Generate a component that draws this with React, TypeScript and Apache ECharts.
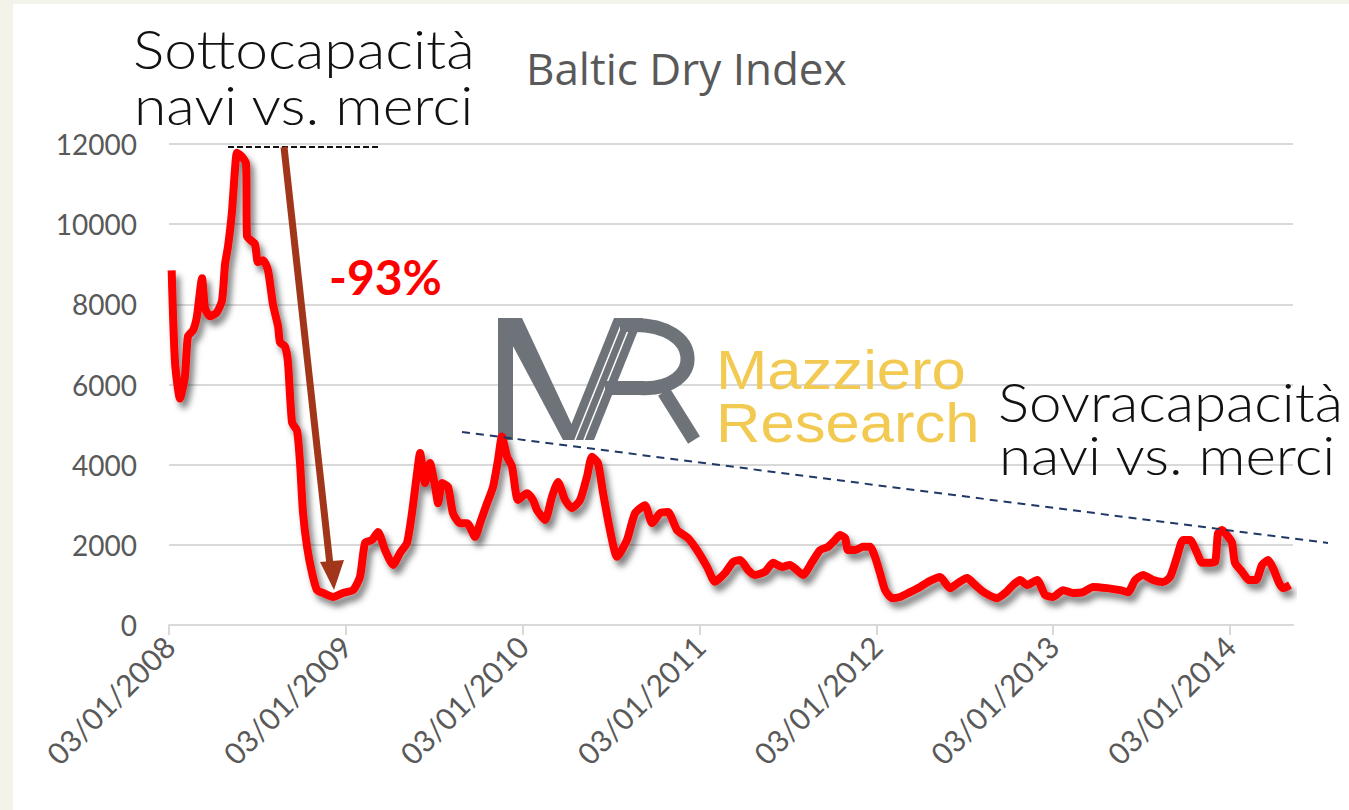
import React, { useEffect, useRef } from "react";
import * as echarts from "echarts";

// Decimal years (x) and Baltic Dry Index values (y)
const years: number[] = [
  2008.015, 2008.034, 2008.062, 2008.09, 2008.107, 2008.136, 2008.158, 2008.187, 2008.204, 2008.232,
  2008.271, 2008.3, 2008.317, 2008.334, 2008.356, 2008.373, 2008.385, 2008.413, 2008.436, 2008.441,
  2008.486, 2008.503, 2008.532, 2008.56, 2008.588, 2008.617, 2008.628, 2008.656, 2008.673, 2008.696,
  2008.724, 2008.741, 2008.758, 2008.781, 2008.809, 2008.837, 2008.871, 2008.928, 2008.984,
  2009.041, 2009.08, 2009.109, 2009.148, 2009.182, 2009.222, 2009.267, 2009.307, 2009.346, 2009.374,
  2009.403, 2009.42, 2009.448, 2009.476, 2009.505, 2009.522, 2009.544, 2009.578, 2009.606, 2009.646,
  2009.686, 2009.731, 2009.759, 2009.799, 2009.833, 2009.861, 2009.883, 2009.912, 2009.94, 2009.974,
  2010.025, 2010.059, 2010.081, 2010.127, 2010.166, 2010.2, 2010.24, 2010.279, 2010.325, 2010.364,
  2010.392, 2010.426, 2010.455, 2010.494, 2010.534, 2010.59, 2010.636, 2010.692, 2010.732, 2010.777,
  2010.822, 2010.873, 2010.935, 2010.986,
  2011.043, 2011.088, 2011.145, 2011.19, 2011.23, 2011.275, 2011.314, 2011.371, 2011.416, 2011.467,
  2011.512, 2011.552, 2011.586, 2011.637, 2011.682, 2011.727, 2011.767, 2011.795, 2011.824, 2011.84,
  2011.88, 2011.925, 2011.965, 2011.993,
  2012.021, 2012.05, 2012.089, 2012.135, 2012.191, 2012.248, 2012.304, 2012.361, 2012.417, 2012.463,
  2012.514, 2012.559, 2012.615, 2012.683, 2012.729, 2012.774, 2012.813, 2012.853, 2012.91, 2012.955,
  2013.0, 2013.057, 2013.113, 2013.17, 2013.226, 2013.305, 2013.379, 2013.424, 2013.464, 2013.509,
  2013.566, 2013.622, 2013.662, 2013.701, 2013.735, 2013.775, 2013.814, 2013.843, 2013.877, 2013.916,
  2013.933, 2013.956, 2013.99,
  2014.012, 2014.029, 2014.069, 2014.108, 2014.148, 2014.182, 2014.216, 2014.244, 2014.278, 2014.301,
  2014.34,
];

const bdi: number[] = [
  8850, 6550, 5650, 6200, 7200, 7350, 7700, 8650, 7900, 7700,
  7800, 8100, 9000, 9450, 10300, 11350, 11780, 11680, 11500, 9700,
  9500, 9050, 9100, 8850, 8000, 7450, 7050, 6950, 6550, 5050,
  4850, 4050, 2800, 1950, 1300, 870, 800, 700, 800,
  870, 1200, 2050, 2120, 2320, 1870, 1500, 1800, 2050, 2790,
  3790, 4290, 3540, 4040, 3450, 3040, 3540, 3450, 2790, 2540,
  2540, 2200, 2540, 3040, 3450, 4120, 4700, 4200, 3950, 3120,
  3290, 3120, 2870, 2620, 3200, 3570, 3120, 2920, 3120, 3700,
  4200, 4040, 3290, 2370, 1700, 2120, 2790, 2990, 2540, 2790,
  2820, 2370, 2170, 1870,
  1450, 1080, 1300, 1570, 1620, 1370, 1250, 1330, 1550, 1450,
  1500, 1370, 1250, 1570, 1870, 1950, 2120, 2245, 2170, 1870,
  1870, 1950, 1950, 1700,
  1300, 870, 670, 700, 820, 950, 1100, 1200, 920, 1050,
  1170, 1000, 800, 670, 800, 1000, 1120, 1000, 1120, 750,
  700, 870, 800, 820, 950, 920, 870, 820, 1120, 1250,
  1120, 1070, 1200, 1700, 2120, 2120, 1800, 1550, 1550, 1570,
  2290, 2370, 2200,
  2050, 1550, 1330, 1120, 1120, 1500, 1620, 1420, 1050, 920,
  1000,
];

const tickDay = "03/01/";
const yTicks = { min: 0, max: 12000, step: 2000 };
const xRange = { min: 2008, max: 2014.357 };
const chartTitle = "Baltic Dry Index";
const leftNote = ["Sottocapacità", "navi vs. merci"];
const rightNote = ["Sovracapacità", "navi vs. merci"];
const dropLabel = "-93%";
const logoWords = ["Mazziero", "Research"];

export default function App() {
  const ref = useRef<HTMLDivElement>(null);
  useEffect(() => {
    if (!ref.current) return;
    const chart = echarts.init(ref.current, null, { renderer: "svg" });
    const grey = "#6d7379";
    const noteFont = "300 54px Lato";
    const logoFont = "normal 56px 'Liberation Sans'";
    chart.setOption({
      animation: false,
      backgroundColor: "#ffffff",
      title: {
        text: chartTitle,
        left: 521,
        top: 41,
        textStyle: { fontFamily: "Open Sans", fontSize: 44, fontWeight: "normal", color: "#595959" },
      },
      grid: { left: 169, right: 56, top: 144, bottom: 185 },
      xAxis: {
        type: "value",
        min: xRange.min,
        max: xRange.max,
        interval: 1,
        splitLine: { show: false },
        axisLine: { show: true, lineStyle: { color: "#d9d9d9", width: 2 } },
        axisTick: { show: true, length: 10, lineStyle: { color: "#d9d9d9", width: 2 } },
        axisLabel: {
          rotate: 45,
          margin: 16,
          color: "#595959",
          fontFamily: "Lato",
          fontSize: 30,
          showMaxLabel: false,
          formatter: (v: number) => (Math.abs(v - Math.round(v)) < 1e-6 ? tickDay + Math.round(v) : ""),
        },
      },
      yAxis: {
        type: "value",
        min: yTicks.min,
        max: yTicks.max,
        interval: yTicks.step,
        axisLine: { show: false },
        axisTick: { show: false },
        splitLine: { lineStyle: { color: "#d9d9d9", width: 2 } },
        axisLabel: {
          color: "#595959",
          fontFamily: "Lato",
          fontSize: 28,
          margin: 32,
          formatter: (v: number) => String(v),
        },
      },
      series: [
        {
          type: "line",
          data: years.map((y, i) => [y, bdi[i]]),
          showSymbol: false,
          smooth: 0.2,
          z: 5,
          lineStyle: {
            color: "#ff0000",
            width: 8,
            shadowColor: "rgba(0,0,0,0.5)",
            shadowBlur: 6,
            shadowOffsetX: 4,
            shadowOffsetY: 6,
          },
        },
      ],
      graphic: [
        { type: "rect", z: 0, shape: { x: 0, y: 0, width: 13, height: 810 }, style: { fill: "#f3f3e9" } },
        { type: "rect", z: 0, shape: { x: 0, y: 0, width: 1349, height: 4 }, style: { fill: "#f3f3e9" } },
        // logo
        { type: "polygon", z: 1, shape: { points: [[498, 318], [513, 318], [513, 440], [498, 440]] }, style: { fill: grey } },
        { type: "polygon", z: 1, shape: { points: [[498, 318], [522, 318], [579, 440], [563, 440]] }, style: { fill: grey } },
        { type: "polygon", z: 1, shape: { points: [[565, 440], [594, 440], [643, 318], [614, 318]] }, style: { fill: grey } },
        { type: "line", z: 1, shape: { x1: 575, y1: 440, x2: 624, y2: 318 }, style: { stroke: "#ffffff", lineWidth: 1.5 } },
        { type: "line", z: 1, shape: { x1: 584, y1: 440, x2: 633, y2: 318 }, style: { stroke: "#ffffff", lineWidth: 1.5 } },
        {
          type: "bezierCurve", z: 1,
          shape: { x1: 630, y1: 325, cpx1: 705, cpy1: 322, cpx2: 705, cpy2: 392, x2: 640, y2: 388 },
          style: { stroke: grey, lineWidth: 14, fill: null },
        },
        { type: "line", z: 1, shape: { x1: 620, y1: 325, x2: 640, y2: 325 }, style: { stroke: grey, lineWidth: 14 } },
        { type: "line", z: 1, shape: { x1: 605, y1: 388, x2: 645, y2: 388 }, style: { stroke: grey, lineWidth: 14 } },
        { type: "line", z: 1, shape: { x1: 664, y1: 392, x2: 694, y2: 440 }, style: { stroke: grey, lineWidth: 14 } },
        {
          type: "text", z: 1, x: 716, y: 343, scaleX: 1.1,
          style: { text: logoWords[0], fill: "#f2ca52", font: logoFont, lineHeight: 52 },
        },
        {
          type: "text", z: 1, x: 716, y: 396, scaleX: 1.1,
          style: { text: logoWords[1], fill: "#f2ca52", font: logoFont, lineHeight: 52 },
        },
        // annotations
        {
          type: "text", z: 10, x: 133, y: 20, scaleX: 1.09,
          style: { text: leftNote[0], fill: "#111111", font: noteFont, lineHeight: 56 },
        },
        {
          type: "text", z: 10, x: 134, y: 76, scaleX: 1.09,
          style: { text: leftNote[1], fill: "#111111", font: noteFont, lineHeight: 56 },
        },
        {
          type: "text", z: 10, x: 998, y: 375, scaleX: 1.08,
          style: { text: rightNote[0], fill: "#111111", font: noteFont, lineHeight: 53 },
        },
        {
          type: "text", z: 10, x: 999, y: 428, scaleX: 1.08,
          style: { text: rightNote[1], fill: "#111111", font: noteFont, lineHeight: 53 },
        },
        {
          type: "text", z: 10, x: 329, y: 252,
          style: { text: dropLabel, fill: "#ff0000", font: "bold 48px Lato" },
        },
        {
          type: "line", z: 10, shape: { x1: 228, y1: 147, x2: 380, y2: 147 },
          style: { stroke: "#111111", lineWidth: 2, lineDash: [6, 3] },
        },
        {
          type: "line", z: 10, shape: { x1: 462, y1: 432, x2: 1328, y2: 543 },
          style: { stroke: "#1f3864", lineWidth: 2, lineDash: [8, 6] },
        },
        {
          type: "line", z: 10, shape: { x1: 284, y1: 147, x2: 330, y2: 565 },
          style: { stroke: "#a2361b", lineWidth: 7 },
        },
        {
          type: "polygon", z: 10, shape: { points: [[320, 562], [344, 560], [334, 590]] },
          style: { fill: "#a2361b" },
        },
      ],
    });
    return () => chart.dispose();
  }, []);
  return <div ref={ref} style={{ position: "fixed", left: 0, top: 0, width: 1349, height: 810 }} />;
}
